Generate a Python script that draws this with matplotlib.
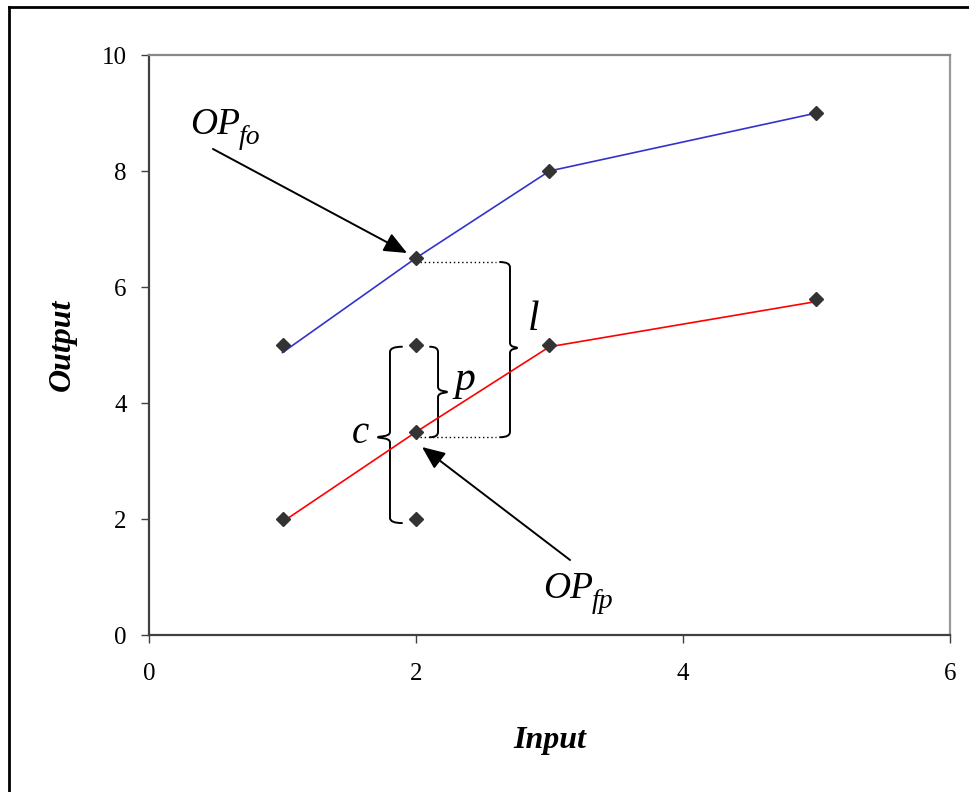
import numpy as np
import matplotlib
matplotlib.use("Agg")
import matplotlib.pyplot as plt
from matplotlib.path import Path
from matplotlib.patches import PathPatch
from matplotlib.lines import Line2D

plt.rcParams.update({"font.family": "Liberation Serif"})

# series markers
fo_x = [1, 2, 3, 5]
fo_y = [5.0, 6.5, 8.0, 9.0]
fp_x = [1, 2, 3, 5]
fp_y = [2.0, 3.5, 5.0, 5.8]
extra_x = [2, 2]
extra_y = [5.0, 2.0]

# fitted lines
fo_line_y = [4.87, 6.5, 8.0, 9.0]
fp_line_y = [1.95, 3.5, 4.97, 5.75]

xticks = [0, 2, 4, 6]
yticks = [0, 2, 4, 6, 8, 10]


def brace(ax, x_end, x_body, x_tip, y_top, y_bot, y_tip):
    # curly brace drawn as bezier path, tip points toward x_tip
    r = 0.09
    verts = [(x_end, y_top), (x_body, y_top), (x_body, y_top - r),
             (x_body, y_tip + r),
             (x_body, y_tip), (x_tip, y_tip + 0.02), (x_tip, y_tip),
             (x_tip, y_tip - 0.02), (x_body, y_tip), (x_body, y_tip - r),
             (x_body, y_bot + r),
             (x_body, y_bot), (x_end, y_bot)]
    codes = [Path.MOVETO, Path.CURVE3, Path.CURVE3,
             Path.LINETO,
             Path.CURVE4, Path.CURVE4, Path.CURVE4,
             Path.CURVE4, Path.CURVE4, Path.CURVE4,
             Path.LINETO,
             Path.CURVE3, Path.CURVE3]
    ax.add_patch(PathPatch(Path(verts, codes), fill=False, lw=1.4, color="black",
                           capstyle="round", joinstyle="round"))


def op_label(ax, x, y, sub, dx, dy):
    ax.text(x, y, "OP", style="italic", fontsize=27, ha="left", va="baseline")
    ax.annotate(sub, xy=(x, y), xytext=(dx, dy), textcoords="offset points",
                style="italic", fontsize=20, ha="left", va="baseline")


fig = plt.figure(figsize=(9.7, 7.92), dpi=100)
ax = fig.add_axes([149 / 970, 1 - 635 / 792, 801 / 970, 580 / 792])

ax.plot(fo_x, fo_line_y, color="#3333cc", lw=1.2, zorder=2)
ax.plot(fp_x, fp_line_y, color="red", lw=1.2, zorder=2)
mk = dict(marker="D", ms=7, color="#333333", ls="none", zorder=3)
ax.plot(fo_x, fo_y, **mk)
ax.plot(fp_x, fp_y, **mk)
ax.plot(extra_x, extra_y, **mk)

# dotted guide lines
ax.plot([2.03, 2.6], [6.43, 6.43], color="black", ls=(0, (1, 2)), lw=1.0)
ax.plot([2.03, 2.6], [3.41, 3.41], color="black", ls=(0, (1, 2)), lw=1.0)

brace(ax, 1.895, 1.805, 1.715, 4.97, 1.93, 3.41)
brace(ax, 2.105, 2.165, 2.232, 4.97, 3.41, 4.19)
brace(ax, 2.629, 2.704, 2.757, 6.43, 3.41, 4.95)

ax.text(1.58, 3.31, "c", style="italic", fontsize=28, ha="center", va="baseline")
ax.text(2.29, 4.22, "p", style="italic", fontsize=30, ha="left", va="baseline")
ax.text(2.884, 5.26, "l", style="italic", fontsize=30, ha="center", va="baseline")

op_label(ax, 0.307, 8.64, "fo", 35, -7)
op_label(ax, 2.951, 0.638, "fp", 35, -7)

arw = dict(arrowstyle="-|>,head_length=1.4,head_width=0.6", color="black", lw=1.4,
           shrinkA=0, shrinkB=0)
ax.annotate("", xy=(1.933, 6.586), xytext=(0.479, 8.38), arrowprops=arw)
ax.annotate("", xy=(2.045, 3.241), xytext=(3.154, 1.293), arrowprops=arw)

ax.set_xlim(0, 6)
ax.set_ylim(0, 10)
ax.set_xticks(xticks)
ax.set_yticks(yticks)
ax.tick_params(labelsize=18, direction="out", length=6, width=1.0, color="#404040")
ax.tick_params(axis="y", pad=10)
ax.tick_params(axis="x", pad=14)
ax.spines["left"].set_color("#404040")
ax.spines["bottom"].set_color("#404040")
ax.spines["top"].set_color("#888888")
ax.spines["right"].set_color("#999999")
for s in ax.spines.values():
    s.set_linewidth(1.6)

ax.set_xlabel("Input", fontsize=23, fontweight="bold", style="italic", labelpad=30)
ax.set_ylabel("Output", fontsize=23, fontweight="bold", style="italic", labelpad=18)

# outer frame (top and left edges visible)
fig.add_artist(Line2D([9 / 970, 9 / 970], [0, 1 - 7 / 792], transform=fig.transFigure,
                      color="black", lw=2))
fig.add_artist(Line2D([9 / 970, 1], [1 - 7 / 792, 1 - 7 / 792], transform=fig.transFigure,
                      color="black", lw=2))

fig.savefig("out.png", dpi=100)
